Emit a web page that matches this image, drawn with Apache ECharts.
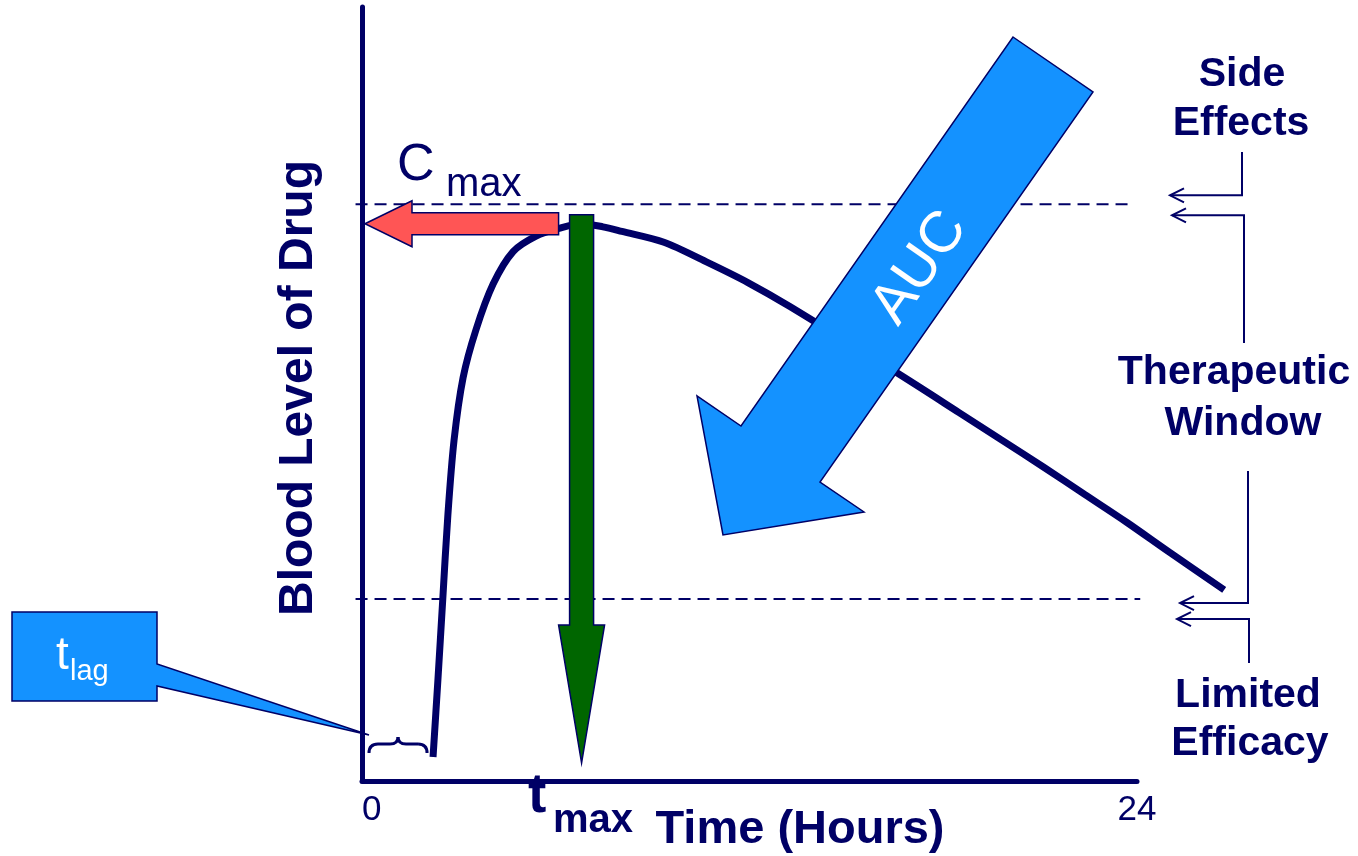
<!DOCTYPE html>
<html>
<head>
<meta charset="utf-8">
<script src="https://cdn.jsdelivr.net/npm/echarts@6/dist/echarts.min.js"></script>
<style>
  html, body { margin: 0; padding: 0; background: #ffffff; }
  #chart { width: 1358px; height: 856px; }
</style>
</head>
<body>
<div id="chart"></div>
<script>
// Plasma concentration–time profile after a single oral dose
const timeHours = [2.2, 2.35, 2.5, 2.66, 2.85, 3.13, 3.53, 4.06, 4.68, 5.39, 6.1, 6.8, 7.46, 8.05,
  9.35, 10.65, 11.95, 13.25, 16.54, 18.49, 19.79, 21.09, 22.39, 23.69, 24.99, 26.7];
const bloodLevel = [3.1, 13.0, 23.4, 34.4, 44.0, 52.1, 58.3, 64.2, 68.4, 70.4, 71.4, 72.0, 71.6, 71.0,
  69.6, 67.1, 64.4, 61.3, 52.8, 47.6, 44.1, 40.6, 37.0, 33.4, 29.6, 24.7];
const xTickLabels = ['0', '24'];

// Key pharmacokinetic values (hours / concentration units)
const cMax = 72;
const tMax = 6.8;
const tLag = 2.2;
const sideEffectLevel = 74.5;   // upper edge of therapeutic window
const efficacyLevel = 23.5;     // lower edge of therapeutic window

const NAVY = '#000066';
const BLUE = '#1492FF';
const RED = '#FF5555';
const GREEN = '#006600';
const FONT = '"Liberation Sans", Arial, Helvetica, sans-serif';

// Plot frame: 0–24 h drawn between these pixel edges
const PLOT_LEFT = 362, PLOT_RIGHT = 1137, PLOT_TOP = 7, PLOT_BOTTOM = 781;
const W = 1358, H = 856;
const pxPerHour = (PLOT_RIGHT - PLOT_LEFT) / 24;
// The curve and threshold lines run a little past 24 h, so they live on a
// second, hidden grid that shares the same scale but spans a wider range.
const EXT_MIN = -0.5, EXT_MAX = 27;

const chart = echarts.init(document.getElementById('chart'), null, { renderer: 'canvas' });

const curve = timeHours.map((t, i) => [t, bloodLevel[i]]);

const hiddenAxis = { show: false, axisLine: { show: false }, axisLabel: { show: false },
  axisTick: { show: false }, splitLine: { show: false } };

chart.setOption({
  animation: false,
  grid: [
    { left: PLOT_LEFT, right: W - PLOT_RIGHT, top: PLOT_TOP, bottom: H - PLOT_BOTTOM,
      containLabel: false, outerBoundsMode: 'none' },
    { left: PLOT_LEFT + EXT_MIN * pxPerHour, right: W - (PLOT_LEFT + EXT_MAX * pxPerHour),
      top: PLOT_TOP, bottom: H - PLOT_BOTTOM, containLabel: false, outerBoundsMode: 'none' }
  ],
  xAxis: [
    {
      gridIndex: 0, type: 'value', min: 0, max: 24, interval: 24,
      axisLine: { show: true, lineStyle: { color: NAVY, width: 5 } },
      axisTick: { show: false },
      splitLine: { show: false },
      axisLabel: {
        color: NAVY, fontSize: 35, fontFamily: FONT, margin: 12, alignMinLabel: 'left',
        formatter: v => (v === 0 ? xTickLabels[0] : xTickLabels[1])
      },
      name: 'Time (Hours)',
      nameLocation: 'middle',
      nameGap: 26,
      nameMoveOverlap: false,
      nameTextStyle: { color: NAVY, fontSize: 47, fontWeight: 'bold', fontFamily: FONT, padding: [0, 0, 0, 101] }
    },
    Object.assign({ gridIndex: 1, type: 'value', min: EXT_MIN, max: EXT_MAX }, hiddenAxis)
  ],
  yAxis: [
    {
      gridIndex: 0, type: 'value', min: 0, max: 100,
      axisLine: { show: true, lineStyle: { color: NAVY, width: 5 } },
      axisTick: { show: false },
      axisLabel: { show: false },
      splitLine: { show: false },
      name: 'Blood Level of Drug',
      nameLocation: 'middle',
      nameRotate: 90,
      nameGap: 39,
      nameMoveOverlap: false,
      nameTextStyle: { color: NAVY, fontSize: 48, fontWeight: 'bold', fontFamily: FONT, padding: [0, 0, 0, 12] }
    },
    Object.assign({ gridIndex: 1, type: 'value', min: 0, max: 100 }, hiddenAxis)
  ],
  series: [
    {
      name: 'Side effects threshold', type: 'line', xAxisIndex: 1, yAxisIndex: 1, silent: true,
      symbol: 'none', z: 1,
      data: [[-0.2, sideEffectLevel], [23.8, sideEffectLevel]],
      lineStyle: { color: NAVY, width: 2, type: [12, 7] }
    },
    {
      name: 'Efficacy threshold', type: 'line', xAxisIndex: 1, yAxisIndex: 1, silent: true,
      symbol: 'none', z: 1,
      data: [[-0.2, efficacyLevel], [24.1, efficacyLevel]],
      lineStyle: { color: NAVY, width: 2, type: [12, 7] }
    },
    {
      name: 'Blood level', type: 'line', xAxisIndex: 1, yAxisIndex: 1,
      data: curve, smooth: 0.3, showSymbol: false, symbol: 'none', z: 3,
      lineStyle: { color: NAVY, width: 7, cap: 'butt' }
    }
  ]
});

function poly(points, fill, z) {
  return { type: 'polygon', z: z || 10, shape: { points },
    style: { fill, stroke: NAVY, lineWidth: 1.5, lineJoin: 'miter' } };
}
function line(points, width) {
  return { type: 'polyline', z: 10, shape: { points },
    style: { fill: null, stroke: NAVY, lineWidth: width || 2 } };
}
function curveSeg(x1, y1, cx, cy, x2, y2) {
  return { type: 'bezierCurve', z: 10,
    shape: { x1, y1, cpx1: cx, cpy1: cy, x2, y2 },
    style: { fill: null, stroke: NAVY, lineWidth: 3 } };
}
function leftHead(x, y) {
  return line([[x + 14, y - 7], [x, y], [x + 14, y + 7]]);
}
function text(str, x, y, size, opts) {
  opts = opts || {};
  return { type: 'text', z: 12, x, y, rotation: opts.rotation || 0,
    style: { text: str, x: 0, y: 0, fill: opts.fill || NAVY,
      font: (opts.bold ? 'bold ' : '') + size + 'px ' + FONT,
      align: opts.align || 'center', verticalAlign: 'middle' } };
}

function buildAnnotations() {
  const px = (t, c) => chart.convertToPixel({ gridIndex: 0 }, [t, c]);
  const [xT, yC] = px(tMax, cMax);
  const [x0, y0] = px(0, 0);
  const yU = px(0, sideEffectLevel)[1];
  const yL = px(0, efficacyLevel)[1];
  const xLag = px(tLag, 0)[0];

  const g = [];

  // Cmax arrow pointing back to the concentration axis
  const tip = x0 + 3, back = tip + 47, tail = xT - 23;
  g.push(poly([[tip, yC], [back, yC - 23], [back, yC - 11], [tail, yC - 11],
    [tail, yC + 11], [back, yC + 11], [back, yC + 23]], RED, 11));

  // tmax arrow dropping to the time axis
  const hb = yL + 26, tipY = y0 - 18;
  g.push(poly([[xT - 12, yC - 9], [xT + 12, yC - 9], [xT + 12, hb], [xT + 23, hb],
    [xT, tipY], [xT - 23, hb], [xT - 12, hb]], GREEN, 11));

  // AUC arrow
  g.push(poly([[1013, 37], [1093, 92], [820, 482], [864, 512], [723, 535], [697, 396], [741, 426]], BLUE, 11));
  g.push(text('AUC', 920, 268, 58, { fill: '#ffffff', rotation: 55 * Math.PI / 180 }));

  // Cmax label
  g.push(text('C', 397, 166, 52, { align: 'left' }));
  g.push(text('max', 446, 185, 40, { align: 'left' }));

  // tmax label
  g.push(text('t', 528, 797, 55, { align: 'left', bold: true }));
  g.push(text('max', 553, 821, 40, { align: 'left', bold: true }));

  // lag-time brace
  const bx0 = x0 + 7, bx1 = xLag - 6, bm = (bx0 + bx1) / 2, by = y0 - 37;
  g.push(curveSeg(bx0, by + 9, bx0, by, bx0 + 9, by));
  g.push(line([[bx0 + 9, by], [bm - 8, by]], 3));
  g.push(curveSeg(bm - 8, by, bm, by, bm, by - 7));
  g.push(curveSeg(bm, by - 7, bm, by, bm + 8, by));
  g.push(line([[bm + 8, by], [bx1 - 9, by]], 3));
  g.push(curveSeg(bx1 - 9, by, bx1, by, bx1, by + 9));

  // lag-time callout
  g.push(poly([[12, 612], [157, 612], [157, 664], [x0 + 7, y0 - 46], [157, 686], [157, 701], [12, 701]], BLUE, 11));
  g.push(text('t', 56, 656, 46, { align: 'left', fill: '#ffffff' }));
  g.push(text('lag', 70, 672, 29, { align: 'left', fill: '#ffffff' }));

  // Therapeutic window brackets on the right
  g.push(line([[1242, 152], [1242, yU - 9], [1170, yU - 9]]));
  g.push(leftHead(1170, yU - 9));
  g.push(line([[1172, yU + 11], [1244, yU + 11], [1244, 343]]));
  g.push(leftHead(1172, yU + 11));
  g.push(line([[1248, 471], [1248, yL + 4], [1180, yL + 4]]));
  g.push(leftHead(1180, yL + 4));
  g.push(line([[1177, yL + 20], [1249, yL + 20], [1249, 663]]));
  g.push(leftHead(1177, yL + 20));

  g.push(text('Side', 1242, 75, 41, { bold: true }));
  g.push(text('Effects', 1241, 124, 41, { bold: true }));
  g.push(text('Therapeutic', 1234, 373, 41, { bold: true }));
  g.push(text('Window', 1243, 424, 41, { bold: true }));
  g.push(text('Limited', 1248, 696, 41, { bold: true }));
  g.push(text('Efficacy', 1250, 744, 41, { bold: true }));

  chart.setOption({ graphic: { elements: g } });
}

buildAnnotations();
</script>
</body>
</html>
